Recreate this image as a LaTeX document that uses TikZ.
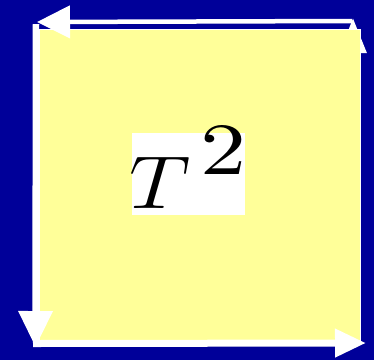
\RequirePackage{fix-cm}
\documentclass[tikz,border=0pt]{standalone}
\usepackage{graphicx}
\usetikzlibrary{arrows.meta}
\definecolor{bgblue}{HTML}{000099}
\definecolor{sqyellow}{HTML}{FFFF99}
\tikzset{
  warrow/.style={draw=white, line cap=butt},
  glyph/.style={inner sep=0pt, anchor=base west},
}
\begin{document}
\begin{tikzpicture}[x=1pt,y=-1pt]
\fill[bgblue] (0,0) rectangle (374,360);
\useasboundingbox (0,0) rectangle (374,360);
% named end points
\coordinate (tr) at (353,340);
\coordinate (trtip) at (353,18);
\coordinate (tstart) at (352,21);
\coordinate (ttip) at (37,22);
\coordinate (lstart) at (36,24);
\coordinate (ltip) at (35.5,347);
\coordinate (bstart) at (33,343.5);
\coordinate (btip) at (366,343);
% right arrow (behind the square)
\draw[warrow, line width=6pt, -{Triangle[length=35pt,width=26pt]}] (tr) -- (trtip);
% yellow square
\draw[draw=white, line width=1.5pt, fill=sqyellow] (39,29.5) rectangle (360.5,340.5);
% the other arrows
\draw[warrow, line width=4.5pt, -{Triangle[length=33pt,width=32pt]}] (tstart) -- (ttip);
\draw[warrow, line width=6.5pt, -{Triangle[length=36pt,width=33pt]}] (lstart) -- (ltip);
\draw[warrow, line width=7pt, -{Triangle[length=31pt,width=27pt]}] (bstart) -- (btip);
% label
\node (lbl) [fill=white, minimum width=113pt, minimum height=82pt, inner sep=0pt]
  at (188.5,174) {};
\node (txt) [glyph] at (129,208)
  {\scalebox{1.15}[1]{\fontsize{75}{80}\selectfont$T$}};
\node (sup) [glyph] at (200,174)
  {\resizebox{46pt}{49pt}{2}};
\end{tikzpicture}
\end{document}
